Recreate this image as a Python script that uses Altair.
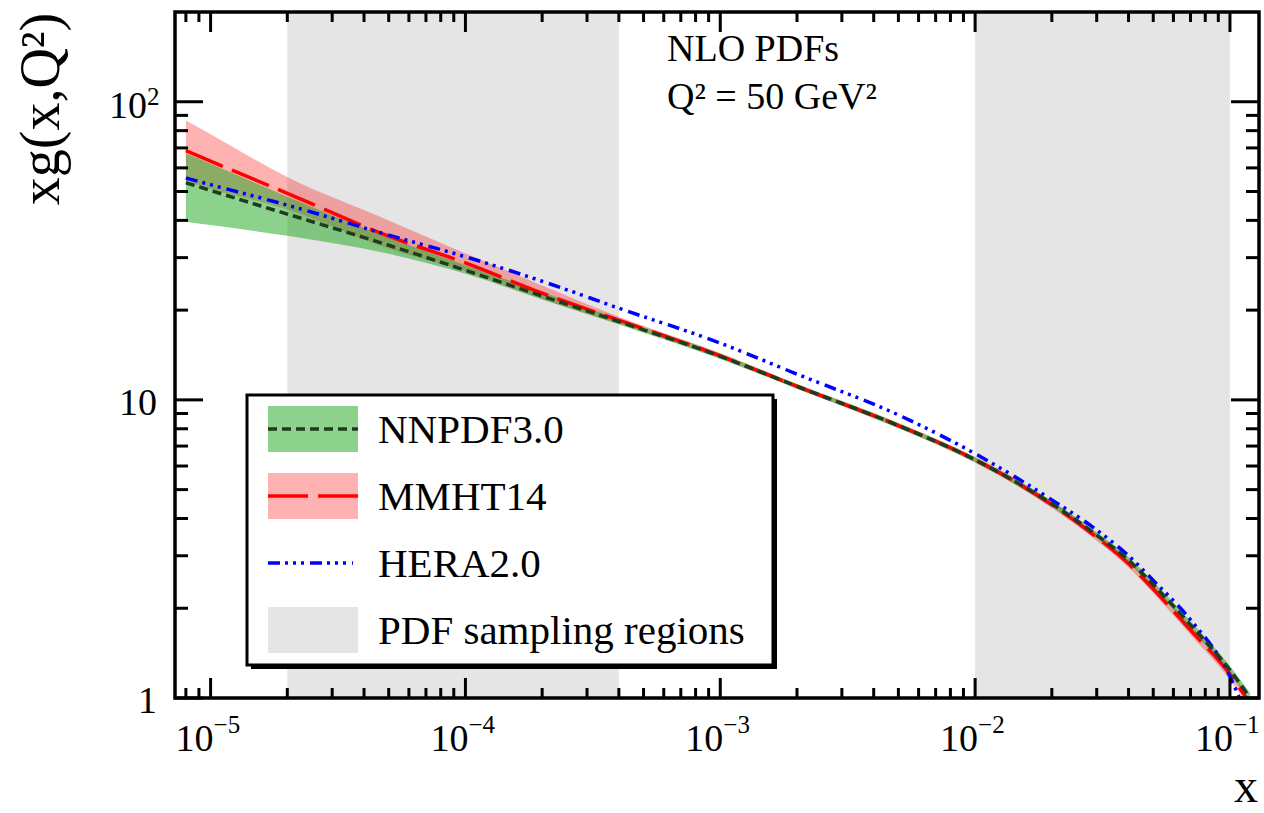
import altair as alt
import pandas as pd

SERIF = "Liberation Serif"
W, H = 1084, 686
X_DOMAIN = [7.25e-6, 0.13]
Y_DOMAIN = [1.0, 200.0]

# PDF sampling regions (x ranges)
region_lo = [2e-5, 1e-2]
region_hi = [4e-4, 1e-1]

x_common = [8e-6, 1e-5, 2e-5, 5e-5, 1e-4, 2e-4, 4e-4, 1e-3, 2e-3, 5e-3,
            1e-2, 2e-2, 3e-2, 4e-2, 5e-2, 7e-2, 0.1]

# NNPDF3.0
nnpdf_x = x_common + [0.12]
nnpdf_c = [53.5, 50.4, 42.0, 33.0, 27.2, 22.3, 18.3, 14.0, 11.1, 8.2,
           6.29, 4.48, 3.52, 2.90, 2.40, 1.76, 1.24, 1.0]
nnpdf_hi = [67.0, 62.0, 48.0, 35.0, 28.3, 23.0, 18.7, 14.3, 11.3, 8.37,
            6.42, 4.58, 3.60, 2.97, 2.46, 1.81, 1.28, 1.04]
nnpdf_lo = [39.6, 38.6, 35.5, 30.9, 26.5, 21.7, 17.9, 13.7, 10.9, 8.03,
            6.16, 4.38, 3.44, 2.83, 2.34, 1.71, 1.2, 0.97]

# MMHT14
mmht_x = x_common + [0.116]
mmht_c = [68.5, 63.2, 49.3, 35.4, 28.8, 22.8, 18.5, 14.05, 11.1, 8.2,
          6.3, 4.45, 3.46, 2.82, 2.32, 1.69, 1.2, 1.0]
mmht_hi = [86.5, 77.8, 55.9, 40.0, 31.0, 24.2, 19.0, 14.35, 11.3, 8.37,
           6.45, 4.57, 3.56, 2.91, 2.40, 1.75, 1.25, 1.04]
mmht_lo = [54.0, 51.0, 43.5, 32.2, 27.0, 21.8, 18.0, 13.8, 10.9, 8.05,
           6.17, 4.34, 3.37, 2.74, 2.25, 1.63, 1.15, 0.96]

# HERA2.0
hera_x = x_common + [0.109]
hera_c = [55.5, 52.7, 45.0, 35.7, 30.2, 25.0, 20.3, 15.5, 12.2, 8.9,
          6.6, 4.62, 3.66, 3.0, 2.48, 1.83, 1.18, 1.0]

# axis ticks
x_major = [1e-5, 1e-4, 1e-3, 1e-2, 1e-1]
x_exp = ["\u22125", "\u22124", "\u22123", "\u22122", "\u22121"]
x_minor = [8e-6, 9e-6] + [m * d for d in [1e-5, 1e-4, 1e-3, 1e-2] for m in range(2, 10)]
y_major = [1, 10, 100]
y_minor = [m * d for d in [1, 10] for m in range(2, 10)]

legend_labels = ["NNPDF3.0", "MMHT14", "HERA2.0", "PDF sampling regions"]

GREEN = "#1aa31a"
DKGREEN = "#1e3c1e"
RED = "#ff0000"
BLUE = "#0000ff"
GRAY = "#e5e5e5"
NN_DASH = [9, 5]
MM_DASH = [40, 10]
HE_DASH = [12, 5, 3, 5, 3, 5, 3, 6]

xs = alt.Scale(type="log", domain=X_DOMAIN, nice=False)
ys = alt.Scale(type="log", domain=Y_DOMAIN, nice=False)


def X(f):
    return alt.X(f, type="quantitative", scale=xs, axis=None)


def Y(f):
    return alt.Y(f, type="quantitative", scale=ys, axis=None)


one = pd.DataFrame({"a": [0]})
layers = []

# gray sampling regions
reg = pd.DataFrame({"lo": region_lo, "hi": region_hi})
layers.append(alt.Chart(reg).mark_rect(color=GRAY).encode(
    x=X("lo"), x2="hi", y=alt.value(0), y2=alt.value(H)))

# bands
mm = pd.DataFrame({"x": mmht_x, "c": mmht_c, "lo": mmht_lo, "hi": mmht_hi})
nn = pd.DataFrame({"x": nnpdf_x, "c": nnpdf_c, "lo": nnpdf_lo, "hi": nnpdf_hi})
he = pd.DataFrame({"x": hera_x, "c": hera_c})

layers.append(alt.Chart(mm).mark_area(color=RED, opacity=0.3, interpolate="monotone", clip=True).encode(
    x=X("x"), y=Y("lo"), y2="hi"))
layers.append(alt.Chart(nn).mark_area(color=GREEN, opacity=0.5, interpolate="monotone", clip=True).encode(
    x=X("x"), y=Y("lo"), y2="hi"))

# central lines
layers.append(alt.Chart(mm).mark_line(color=RED, strokeWidth=3.5, strokeDash=MM_DASH,
                                      interpolate="monotone", clip=True).encode(x=X("x"), y=Y("c")))
layers.append(alt.Chart(he).mark_line(color=BLUE, strokeWidth=3.5, strokeDash=HE_DASH,
                                      interpolate="monotone", clip=True).encode(x=X("x"), y=Y("c")))
layers.append(alt.Chart(nn).mark_line(color=DKGREEN, strokeWidth=3.5, strokeDash=NN_DASH,
                                      interpolate="monotone", clip=True).encode(x=X("x"), y=Y("c")))


# ticks (inward, on all four sides)
def xticks(vals, length):
    df = pd.DataFrame({"v": vals})
    base = alt.Chart(df).mark_rule(color="black", strokeWidth=3)
    return [base.encode(x=X("v"), y=alt.value(H), y2=alt.value(H - length)),
            base.encode(x=X("v"), y=alt.value(0), y2=alt.value(length))]


def yticks(vals, length):
    df = pd.DataFrame({"v": vals})
    base = alt.Chart(df).mark_rule(color="black", strokeWidth=3)
    return [base.encode(y=Y("v"), x=alt.value(0), x2=alt.value(length)),
            base.encode(y=Y("v"), x=alt.value(W), x2=alt.value(W - length))]


layers += xticks(x_major, 20) + xticks(x_minor, 10) + yticks(y_major, 28) + yticks(y_minor, 13)

# frame
layers.append(alt.Chart(one).mark_rect(fill=None, stroke="black", strokeWidth=3.5).encode(
    x=alt.value(0), x2=alt.value(W), y=alt.value(0), y2=alt.value(H)))

# x tick labels
xl = pd.DataFrame({"v": x_major, "e": x_exp})
layers.append(alt.Chart(xl).mark_text(font=SERIF, fontSize=38, align="right", baseline="middle", dx=3).encode(
    x=X("v"), y=alt.value(H + 42), text=alt.value("10")))
layers.append(alt.Chart(xl).mark_text(font=SERIF, fontSize=25, align="left", baseline="middle", dx=3).encode(
    x=X("v"), y=alt.value(H + 27), text="e:N"))

# y tick labels
yl = pd.DataFrame({"v": [1, 10], "t": ["1", "10"]})
layers.append(alt.Chart(yl).mark_text(font=SERIF, fontSize=38, align="right", baseline="middle", dy=4).encode(
    y=Y("v"), x=alt.value(-18), text="t:N"))
y100 = pd.DataFrame({"v": [100]})
layers.append(alt.Chart(y100).mark_text(font=SERIF, fontSize=38, align="right", baseline="middle", dy=5).encode(
    y=Y("v"), x=alt.value(-28), text=alt.value("10")))
layers.append(alt.Chart(y100).mark_text(font=SERIF, fontSize=25, align="left", baseline="middle", dy=-5).encode(
    y=Y("v"), x=alt.value(-28), text=alt.value("2")))

# axis titles
layers.append(alt.Chart(one).mark_text(font=SERIF, fontSize=56, angle=270, align="center", baseline="middle").encode(
    x=alt.value(-133), y=alt.value(97), text=alt.value("xg(x,Q\u00b2)")))
layers.append(alt.Chart(one).mark_text(font=SERIF, fontSize=48, align="center", baseline="bottom").encode(
    x=alt.value(1071), y=alt.value(800), text=alt.value("x")))

# annotation
layers.append(alt.Chart(one).mark_text(font=SERIF, fontSize=38, align="left", baseline="middle").encode(
    x=alt.value(492), y=alt.value(38), text=alt.value("NLO PDFs")))
layers.append(alt.Chart(one).mark_text(font=SERIF, fontSize=38, align="left", baseline="middle").encode(
    x=alt.value(492), y=alt.value(86), text=alt.value("Q\u00b2 = 50 GeV\u00b2")))

# legend
LX0, LX1, LY0, LY1 = 72, 598, 383, 653
layers.append(alt.Chart(one).mark_rect(color="black").encode(
    x=alt.value(LX0 + 4), x2=alt.value(LX1 + 4), y=alt.value(LY0 + 4), y2=alt.value(LY1 + 4)))
layers.append(alt.Chart(one).mark_rect(fill="white", stroke="black", strokeWidth=3).encode(
    x=alt.value(LX0), x2=alt.value(LX1), y=alt.value(LY0), y2=alt.value(LY1)))
rows = [417, 484, 551, 618]
SW0, SW1 = 93, 183
swatch_fill = [(GREEN, 0.5), (RED, 0.3), None, (GRAY, 1.0)]
swatch_line = [(DKGREEN, NN_DASH), (RED, MM_DASH), (BLUE, HE_DASH), None]
for i, lab in enumerate(legend_labels):
    cy = rows[i]
    if swatch_fill[i] is not None:
        col, op = swatch_fill[i]
        layers.append(alt.Chart(one).mark_rect(color=col, opacity=op).encode(
            x=alt.value(SW0), x2=alt.value(SW1), y=alt.value(cy - 23), y2=alt.value(cy + 23)))
    if swatch_line[i] is not None:
        col, dash = swatch_line[i]
        layers.append(alt.Chart(one).mark_rule(color=col, strokeWidth=3.5, strokeDash=dash).encode(
            x=alt.value(SW0), x2=alt.value(SW1 - (5 if i == 2 else 0)), y=alt.value(cy)))
    layers.append(alt.Chart(one).mark_text(font=SERIF, fontSize=41, align="left", baseline="middle").encode(
        x=alt.value(203), y=alt.value(cy + 2), text=alt.value(lab)))

chart = alt.layer(*layers).properties(
    width=W, height=H,
    autosize=alt.AutoSizeParams(type="none"),
    padding={"left": 175, "top": 12, "right": 5, "bottom": 115},
    background="white",
).configure_view(stroke=None)

chart.save("out.html", embed_options={"renderer": "svg", "actions": False})
